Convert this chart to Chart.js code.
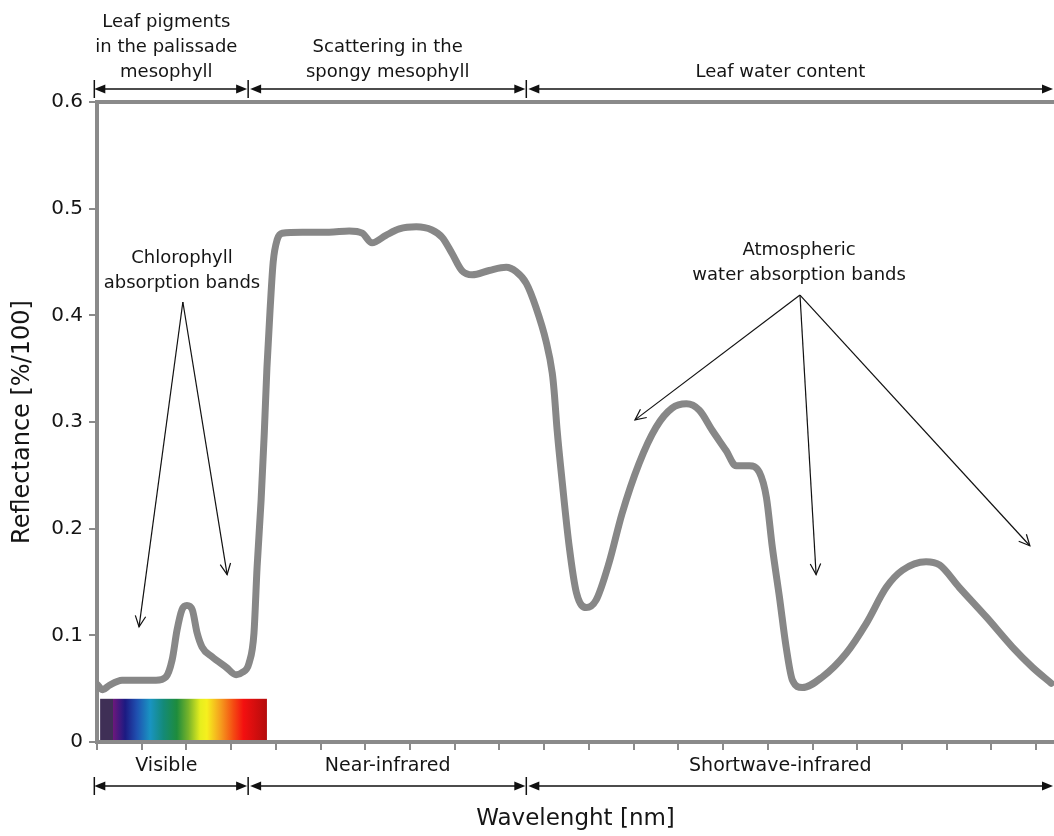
<!DOCTYPE html>
<html>
<head>
<meta charset="utf-8">
<script src="https://cdn.jsdelivr.net/npm/chart.js@4.4.1/dist/chart.umd.min.js"></script>
<style>
	body { margin: 0; background: #fff; }
	#wrap { width: 1054px; height: 836px; }
</style>
</head>
<body>
<div id="wrap"><canvas id="chartReflectance" width="1054" height="836"></canvas></div>
<script>
// Reflectance curve of a green leaf
const wavelength = [400, 413, 427, 456, 494, 532, 554, 568, 579, 590, 601, 613, 624, 635, 657, 689, 711, 724, 740, 751, 758,
	767, 774, 780, 787, 794, 803, 814, 859, 919, 964, 993, 1015, 1046, 1076, 1114, 1149, 1172, 1194, 1216, 1239,
	1277, 1315, 1337, 1360, 1382, 1404, 1418, 1422, 1429, 1440, 1456, 1472, 1494, 1516, 1545, 1574, 1612, 1650, 1686, 1718,
	1747, 1776, 1807, 1829, 1859, 1881, 1897, 1910, 1926, 1941, 1955, 1977, 2022, 2075, 2120, 2165, 2201, 2254, 2284, 2328,
	2389, 2447, 2492, 2534];
const reflectance = [0.054, 0.049, 0.053, 0.058, 0.058, 0.058, 0.061, 0.077, 0.105, 0.124, 0.128, 0.124, 0.102, 0.089, 0.080, 0.070, 0.063, 0.065, 0.074, 0.102, 0.164,
	0.227, 0.289, 0.351, 0.405, 0.450, 0.471, 0.477, 0.478, 0.478, 0.479, 0.477, 0.468, 0.475, 0.481, 0.483, 0.480, 0.473, 0.458, 0.442, 0.438,
	0.442, 0.445, 0.441, 0.430, 0.407, 0.376, 0.346, 0.330, 0.292, 0.245, 0.183, 0.140, 0.126, 0.133, 0.168, 0.214, 0.261, 0.295, 0.313, 0.317,
	0.311, 0.292, 0.273, 0.259, 0.259, 0.253, 0.229, 0.183, 0.136, 0.089, 0.058, 0.051, 0.061, 0.083, 0.111, 0.145, 0.161, 0.169, 0.166, 0.145,
	0.117, 0.089, 0.070, 0.055];

const yTickLabels = ['0', '0.1', '0.2', '0.3', '0.4', '0.5', '0.6'];

// Bands above and below the plot
const bandEdges = [394, 738, 1360, 2540];
const bandLabelCenters = [555, 1050, 1928];
const topBandLabels = [['Leaf pigments', 'in the palissade', 'mesophyll'], ['Scattering in the', 'spongy mesophyll'], ['Leaf water content']];
const bottomBandLabels = ['Visible', 'Near-infrared', 'Shortwave-infrared'];

// Callouts
const calloutLabels = [['Chlorophyll', 'absorption bands'], ['Atmospheric', 'water absorption bands']];
const calloutTextAt = [[590, 0.449], [1970, 0.4566]];
const calloutApex = [[592, 0.4125], [1972, 0.419]];
const calloutTargets = [[[494, 0.108], [691, 0.157]], [[1603, 0.302], [2008, 0.157], [2486, 0.184]]];

// Visible spectrum strip
const spectrumRange = [407, 780];
const spectrumTop = 0.0405;

const fontFamily = '"DejaVu Sans", Arial, sans-serif';
const textColor = '#151515';
const axisGray = '#8a8a8a';

function filledHead(ctx, xTip, y, dir) {
	ctx.beginPath();
	ctx.moveTo(xTip, y);
	ctx.lineTo(xTip - dir * 11, y - 4.5);
	ctx.lineTo(xTip - dir * 11, y + 4.5);
	ctx.closePath();
	ctx.fill();
}

function openArrow(ctx, xa, ya, xb, yb) {
	ctx.beginPath();
	ctx.moveTo(xa, ya);
	ctx.lineTo(xb, yb);
	ctx.stroke();
	const ang = Math.atan2(yb - ya, xb - xa), L = 12, a = 0.45;
	ctx.beginPath();
	ctx.moveTo(xb - L * Math.cos(ang - a), yb - L * Math.sin(ang - a));
	ctx.lineTo(xb, yb);
	ctx.lineTo(xb - L * Math.cos(ang + a), yb - L * Math.sin(ang + a));
	ctx.stroke();
}

function drawBandRow(ctx, px, y) {
	for (let i = 0; i < px.length - 1; i++) {
		const a = px[i] + (i === 0 ? 0 : 2), b = px[i + 1] - 1;
		ctx.beginPath();
		ctx.moveTo(a + 4, y);
		ctx.lineTo(b - 4, y);
		ctx.stroke();
		filledHead(ctx, a, y, -1);
		filledHead(ctx, b, y, 1);
	}
	for (let i = 0; i < px.length - 1; i++) {
		ctx.beginPath();
		ctx.moveTo(px[i], y - 9);
		ctx.lineTo(px[i], y + 9);
		ctx.stroke();
	}
}

const annotationsPlugin = {
	id: 'annotations',
	beforeDatasetsDraw(chart) {
		const { ctx, scales: { x, y } } = chart;
		const x0 = x.getPixelForValue(spectrumRange[0]);
		const x1 = x.getPixelForValue(spectrumRange[1]);
		const yTop = y.getPixelForValue(spectrumTop);
		const yBot = y.getPixelForValue(0) - 2;
		const g = ctx.createLinearGradient(x0, 0, x1, 0);
		[[0, '#3f2f56'], [0.075, '#3f2f56'], [0.08, '#6a187c'], [0.15, '#1c1a82'], [0.22, '#1f50b0'], [0.3, '#1994c2'],
		 [0.38, '#148a78'], [0.46, '#1e8c3c'], [0.53, '#78b42a'], [0.6, '#e6ee1e'], [0.64, '#f6f01e'], [0.72, '#f5a01e'],
		 [0.8, '#f44a12'], [0.86, '#f31010'], [1, '#b40c0c']].forEach(([p, c]) => g.addColorStop(p, c));
		ctx.save();
		ctx.fillStyle = g;
		ctx.fillRect(x0, yTop, x1 - x0, yBot - yTop);
		ctx.restore();
	},
	afterDraw(chart) {
		const { ctx, chartArea, scales: { x, y } } = chart;
		const edgesPx = bandEdges.map(v => x.getPixelForValue(v));
		ctx.save();
		ctx.strokeStyle = '#111';
		ctx.fillStyle = '#111';
		ctx.lineWidth = 1.5;
		drawBandRow(ctx, edgesPx, chartArea.top - 13);
		drawBandRow(ctx, edgesPx, chartArea.bottom + 44);

		ctx.fillStyle = textColor;
		ctx.textAlign = 'center';
		ctx.textBaseline = 'alphabetic';
		ctx.font = '18px ' + fontFamily;
		topBandLabels.forEach((lines, i) => {
			const cx = x.getPixelForValue(bandLabelCenters[i]);
			lines.forEach((t, j) => {
				ctx.fillText(t, cx, chartArea.top - 25 - (lines.length - 1 - j) * 25);
			});
		});
		ctx.font = '19px ' + fontFamily;
		bottomBandLabels.forEach((t, i) => {
			ctx.fillText(t, x.getPixelForValue(bandLabelCenters[i]), chartArea.bottom + 29);
		});

		// callouts
		ctx.font = '18px ' + fontFamily;
		calloutLabels.forEach((lines, i) => {
			const cx = x.getPixelForValue(calloutTextAt[i][0]);
			const cy = y.getPixelForValue(calloutTextAt[i][1]);
			lines.forEach((t, j) => ctx.fillText(t, cx, cy + j * 25));
		});
		ctx.strokeStyle = '#111';
		ctx.lineWidth = 1.2;
		calloutTargets.forEach((targets, i) => {
			const ax = x.getPixelForValue(calloutApex[i][0]);
			const ay = y.getPixelForValue(calloutApex[i][1]);
			targets.forEach(([tx, ty]) => openArrow(ctx, ax, ay, x.getPixelForValue(tx), y.getPixelForValue(ty)));
		});
		ctx.restore();
	}
};

const ctx = document.getElementById('chartReflectance').getContext('2d');
const chartReflectance = new Chart(ctx, {
	type: 'line',
	data: {
		datasets: [{
			label: 'Reflectance',
			data: wavelength.map((w, i) => ({ x: w, y: reflectance[i] })),
			borderColor: '#878787',
			borderWidth: 7,
			pointRadius: 0,
			cubicInterpolationMode: 'monotone',
			borderCapStyle: 'round',
			borderJoinStyle: 'round',
			fill: false
		}]
	},
	options: {
		responsive: false,
		animation: false,
		layout: { padding: { top: 102, right: 0, bottom: 3, left: 8 } },
		plugins: {
			legend: { display: false },
			tooltip: { enabled: false }
		},
		scales: {
			x: {
				type: 'linear',
				min: 400,
				max: 2540,
				ticks: { display: false, stepSize: 100, includeBounds: false },
				grid: { drawOnChartArea: false, tickLength: 8, color: axisGray, lineWidth: 2 },
				border: { color: axisGray, width: 4 },
				title: {
					display: true,
					text: 'Wavelenght [nm]',
					color: textColor,
					font: { family: fontFamily, size: 23 },
					padding: { top: 0, bottom: 0 }
				},
				afterFit(scale) { scale.height = 91; }
			},
			xTop: {
				type: 'linear',
				position: 'top',
				min: 400,
				max: 2540,
				ticks: { display: false },
				grid: { display: false },
				border: { color: axisGray, width: 4 },
				afterFit(scale) { scale.height = 0; }
			},
			y: {
				min: 0,
				max: 0.6,
				ticks: {
					stepSize: 0.1,
					color: textColor,
					padding: 6,
					font: { family: fontFamily, size: 20 },
					callback: function (value, index) { return yTickLabels[index]; }
				},
				grid: { drawOnChartArea: false, tickLength: 8, color: axisGray, lineWidth: 2 },
				border: { color: axisGray, width: 4 },
				title: {
					display: true,
					text: 'Reflectance [%/100]',
					color: textColor,
					font: { family: fontFamily, size: 24 },
					padding: { top: 0, bottom: 0 }
				},
				afterFit(scale) { scale.width = 89; }
			}
		}
	},
	plugins: [annotationsPlugin]
});
</script>
</body>
</html>
